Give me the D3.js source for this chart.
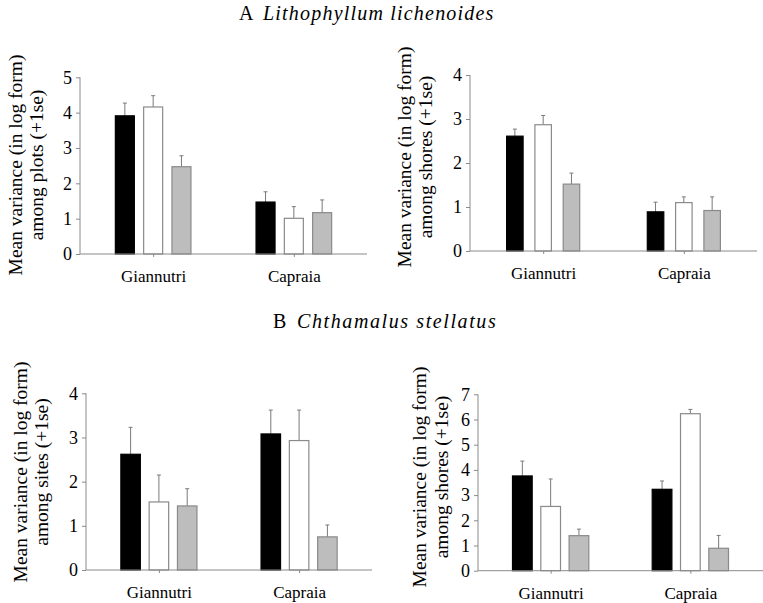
<!DOCTYPE html>
<html>
<head>
<meta charset="utf-8">
<script src="https://cdn.jsdelivr.net/npm/d3@7"></script>
<style>
  body { margin: 0; background: #fff; }
  svg, svg text { font-family: "Liberation Serif", "Times New Roman", serif; }
</style>
</head>
<body>
<div id="chart"></div>
<script>
// categories
var groups = ["Giannutri", "Capraia"];
var series = ["black", "white", "grey"];

// A Lithophyllum lichenoides - among plots
var aPlotsMean = [[3.91, 4.16, 2.47], [1.47, 1.01, 1.17]];
var aPlotsSe   = [[0.36, 0.32, 0.31], [0.29, 0.33, 0.36]];
// A Lithophyllum lichenoides - among shores
var aShoresMean = [[2.61, 2.87, 1.52], [0.89, 1.10, 0.92]];
var aShoresSe   = [[0.16, 0.21, 0.25], [0.22, 0.13, 0.31]];
// B Chthamalus stellatus - among sites
var bSitesMean = [[2.62, 1.54, 1.45], [3.08, 2.93, 0.75]];
var bSitesSe   = [[0.61, 0.61, 0.39], [0.54, 0.69, 0.27]];
// B Chthamalus stellatus - among shores
var bShoresMean = [[3.76, 2.55, 1.39], [3.23, 6.23, 0.89]];
var bShoresSe   = [[0.59, 1.09, 0.26], [0.33, 0.17, 0.51]];

var yTicksA1 = [0, 1, 2, 3, 4, 5];
var yTicksA2 = [0, 1, 2, 3, 4];
var yTicksB1 = [0, 1, 2, 3, 4];
var yTicksB2 = [0, 1, 2, 3, 4, 5, 6, 7];

var fills = { black: "#000", white: "#fff", grey: "#bdbdbd" };
var strokes = { black: "#000", white: "#8a8a8a", grey: "#8a8a8a" };

var svg = d3.select("#chart").append("svg")
  .attr("width", 763)
  .attr("height", 603);

// section titles
var t1 = svg.append("text").attr("x", 239).attr("y", 20).style("font-size", "20px").style("letter-spacing", "1.2px");
t1.append("tspan").text("A");
t1.append("tspan").attr("x", 263).style("font-style", "italic").text("Lithophyllum lichenoides");
var t2 = svg.append("text").attr("x", 273).attr("y", 328).style("font-size", "20px").style("letter-spacing", "1.6px");
t2.append("tspan").text("B");
t2.append("tspan").attr("x", 297).style("font-style", "italic").text("Chthamalus stellatus");

var panels = [
  { mean: aPlotsMean, se: aPlotsSe, ticks: yTicksA1, left: 80, right: 367, bottom: 254, top: 77.3,
    label: "among plots (+1se)", lx1: 22, lx2: 43, ly: 165, barW: 20 },
  { mean: aShoresMean, se: aShoresSe, ticks: yTicksA2, left: 470, right: 757, bottom: 251, top: 75,
    label: "among shores (+1se)", lx1: 411, lx2: 432, ly: 157, barW: 17.5 },
  { mean: bSitesMean, se: bSitesSe, ticks: yTicksB1, left: 86, right: 372, bottom: 570, top: 393.3,
    label: "among sites (+1se)", lx1: 27, lx2: 48, ly: 472, barW: 20.5 },
  { mean: bShoresMean, se: bShoresSe, ticks: yTicksB2, left: 478, right: 763, bottom: 570.7, top: 394.3,
    label: "among shores (+1se)", lx1: 426, lx2: 448, ly: 477, barW: 20.7 }
];

panels.forEach(function (p) {
  var g = svg.append("g");
  var maxV = p.ticks[p.ticks.length - 1];

  var y = d3.scaleLinear().domain([0, maxV]).range([p.bottom, p.top]);
  var x = d3.scalePoint().domain(groups).range([p.left, p.right]).padding(0.52);
  var step = 28.3;
  var inner = d3.scaleBand().domain(series)
    .range([-step * 1.5, step * 1.5]).paddingInner(1 - p.barW / step).paddingOuter((step - p.barW) / step / 2);

  // bars and error bars
  groups.forEach(function (grp, gi) {
    series.forEach(function (s, si) {
      var m = p.mean[gi][si];
      var e = p.se[gi][si];
      var bx = x(grp) + inner(s);
      var cx = bx + inner.bandwidth() / 2;
      g.append("line")
        .attr("x1", cx).attr("x2", cx)
        .attr("y1", y(m)).attr("y2", y(m + e))
        .attr("stroke", "#7a7a7a").attr("stroke-width", 1);
      g.append("line")
        .attr("x1", cx - 2).attr("x2", cx + 2)
        .attr("y1", y(m + e)).attr("y2", y(m + e))
        .attr("stroke", "#7a7a7a").attr("stroke-width", 1);
      g.append("rect")
        .attr("x", bx + 0.5)
        .attr("y", y(m))
        .attr("width", inner.bandwidth() - 1)
        .attr("height", y(0) - y(m))
        .attr("fill", fills[s])
        .attr("stroke", strokes[s])
        .attr("stroke-width", 1.2);
    });
  });

  // y axis
  var yAxis = g.append("g")
    .attr("transform", "translate(" + p.left + ",0)")
    .call(d3.axisLeft(y).tickValues(p.ticks).tickSize(4).tickPadding(4).tickFormat(d3.format("d")));
  yAxis.attr("font-family", null).attr("font-size", null);
  yAxis.select(".domain").attr("stroke", "#8a8a8a").attr("d", "M0," + y(maxV) + "V" + y(0));
  yAxis.selectAll(".tick line").attr("stroke", "#8a8a8a");
  yAxis.selectAll(".tick text").style("font-size", "18px").attr("fill", "#000");

  // x axis
  var xAxis = g.append("g")
    .attr("transform", "translate(0," + p.bottom + ")")
    .call(d3.axisBottom(x).tickSize(3).tickPadding(13));
  xAxis.attr("font-family", null).attr("font-size", null);
  xAxis.select(".domain").attr("stroke", "#8a8a8a").attr("d", "M" + p.left + ",0H" + p.right);
  xAxis.selectAll(".tick line").attr("stroke", "#8a8a8a");
  xAxis.selectAll(".tick text").style("font-size", "17px").attr("fill", "#000");

  // y label
  g.append("text")
    .attr("transform", "translate(" + p.lx1 + "," + p.ly + ") rotate(-90)")
    .attr("text-anchor", "middle")
    .style("font-size", "19.5px")
    .text("Mean variance (in log form)");
  g.append("text")
    .attr("transform", "translate(" + p.lx2 + "," + p.ly + ") rotate(-90)")
    .attr("text-anchor", "middle")
    .style("font-size", "19.5px")
    .text(p.label);
});
</script>
</body>
</html>
